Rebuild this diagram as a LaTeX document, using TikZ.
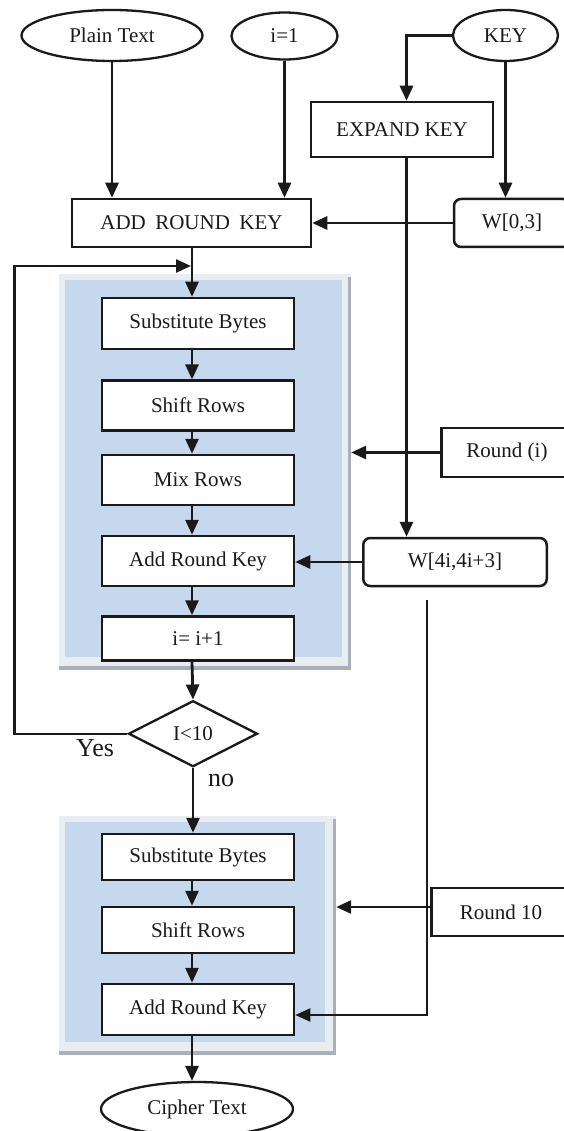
\documentclass[tikz,border=0pt]{standalone}
\usepackage{fontspec}
\setmainfont{Liberation Serif}
\usetikzlibrary{arrows.meta,shapes.geometric}
\definecolor{panelblue}{HTML}{C6D8EE}
\definecolor{framelight}{HTML}{E9EDF2}
\definecolor{framedark}{HTML}{A9B0B8}
\definecolor{ink}{HTML}{1A1A1A}
\begin{document}
\begin{tikzpicture}[x=1pt,y=-1pt,
  txt/.style={font=\fontsize{21}{24}\selectfont, text=ink},
  box/.style={txt, draw=ink, line width=2.5pt, fill=white, rectangle, inner sep=0pt},
  rbox/.style={box, rounded corners=7pt},
  oval/.style={txt, draw=ink, line width=2.3pt, fill=white, ellipse, inner sep=0pt},
  dia/.style={txt, draw=ink, line width=2.3pt, fill=white, diamond, aspect=2, inner sep=0pt},
  lbl/.style={font=\fontsize{26}{28}\selectfont, text=ink, inner sep=0pt},
  arr/.style={draw=ink, line width=2.8pt, -{Triangle[length=15pt,width=13pt]}},
  thinarr/.style={draw=ink, line width=2pt, -{Triangle[length=15pt,width=13pt]}},
  looparr/.style={draw=ink, line width=2.3pt, -{Triangle[length=15pt,width=13pt]}},
  frame/.style={fill=framelight, inner sep=0pt, rectangle}
]
\useasboundingbox[fill=white] (0,0) rectangle (563,1131);

% helper coordinates
\coordinate (spine) at (192,0);
\coordinate (kx) at (406.5,0);
\coordinate (loopx) at (14.4,0);
\coordinate (loopin) at (191,266);
\coordinate (wtail) at (426.6,600);

% panels
\node[frame, minimum width=292pt, minimum height=396pt] (fA) at (205,472) {};
\fill[framedark] (347.5,277) rectangle (351,670);
\fill[framedark] (59,665.5) rectangle (351,670);
\fill[panelblue] (65,280) rectangle (342,657);

\node[frame, minimum width=277pt, minimum height=239pt] (fB) at (197.5,935.5) {};
\fill[framedark] (332.5,819) rectangle (336,1055);
\fill[framedark] (59,1050.5) rectangle (336,1055);
\fill[panelblue] (65,822) rectangle (325,1042);

% top nodes
\node[oval, minimum width=181pt, minimum height=51pt] (plain) at (112,35.5) {Plain Text};
\node[oval, minimum width=106pt, minimum height=47pt] (ione) at (284.5,36) {i=1};
\node[oval, minimum width=105pt, minimum height=51pt] (key) at (505.5,35.5) {KEY};
\node[box, minimum width=182pt, minimum height=55pt] (expand) at (402,129.5) {EXPAND KEY};
\node[box, minimum width=239pt, minimum height=48pt] (ark0) at (191.5,223) {ADD\hspace{0.45em}ROUND\hspace{0.45em}KEY};
\node[rbox, minimum width=116pt, minimum height=48pt] (w0) at (512,223) {W[0,3]};

% round loop boxes
\node[box, minimum width=192pt, minimum height=51pt] (sb1) at (198,323.5) {Substitute Bytes};
\node[box, minimum width=192pt, minimum height=50pt] (sr1) at (198,405.7) {Shift Rows};
\node[box, minimum width=192pt, minimum height=50pt] (mr1) at (198,480) {Mix Rows};
\node[box, minimum width=192pt, minimum height=50pt] (ak1) at (198,561) {Add Round Key};
\node[box, minimum width=192pt, minimum height=44pt] (inc) at (198,638.5) {i= i+1};

\node[box, minimum width=131pt, minimum height=49pt] (ri) at (507,452.5) {Round (i)};
\node[rbox, minimum width=183.5pt, minimum height=48pt] (w4) at (455,562) {W[4i,4i+3]};

% decision
\node[dia, minimum width=129pt, minimum height=66pt] (dec) at (193,733.7) {I<10};
\node[lbl] (yes) at (95,748) {Yes};
\node[lbl] (no) at (221,780) {no};

% final round
\node[box, minimum width=192pt, minimum height=46pt] (sb2) at (198,857) {Substitute Bytes};
\node[box, minimum width=192pt, minimum height=46pt] (sr2) at (198,930) {Shift Rows};
\node[box, minimum width=192pt, minimum height=51pt] (ak2) at (198,1009.5) {Add Round Key};
\node[box, minimum width=139pt, minimum height=48pt] (r10) at (501,912) {Round 10};
\node[oval, minimum width=192pt, minimum height=54pt] (cipher) at (197,1109) {Cipher Text};

% connectors top
\draw[arr] (plain.south) -- (plain.south |- ark0.north);
\draw[arr] (ione.south) -- (ione.south |- ark0.north);
\draw[arr] (key.west) -- (key.west -| kx) -- (expand.north -| kx);
\draw[arr] (key.south) -- (key.south |- w0.north);
\draw[arr] (w0.west) -- (w0.west -| ark0.east);
\draw[arr] (expand.south -| kx) -- (w4.north -| kx);

% main spine
\draw[arr] (ark0.south -| spine) -- (sb1.north -| spine);
\draw[arr] (sb1.south -| spine) -- (sr1.north -| spine);
\draw[arr] (sr1.south -| spine) -- (mr1.north -| spine);
\draw[arr] (mr1.south -| spine) -- (ak1.north -| spine);
\draw[arr] (ak1.south -| spine) -- (inc.north -| spine);
\draw[arr] (inc.south -| spine) -- (dec.north);

\draw[arr] (ri.west) -- (ri.west -| fA.east);
\draw[arr] (w4.west) -- (w4.west -| ak1.east);

% loop
\draw[looparr] (dec.west) -- (dec.west -| loopx) |- (loopin);

% final round
\draw[arr] (dec.south) -- (dec.south |- sb2.north);
\draw[arr] (sb2.south -| spine) -- (sr2.north -| spine);
\draw[arr] (sr2.south -| spine) -- (ak2.north -| spine);
\draw[arr] ([yshift=5pt]r10.west) -- ([yshift=5pt]r10.west -| fB.east);
\draw[thinarr] (wtail) -- (wtail |- 0,1015) -- ([yshift=-5.5pt]ak2.east);
\draw[arr] (ak2.south -| spine) -- (cipher.north -| spine);
\end{tikzpicture}
\end{document}
